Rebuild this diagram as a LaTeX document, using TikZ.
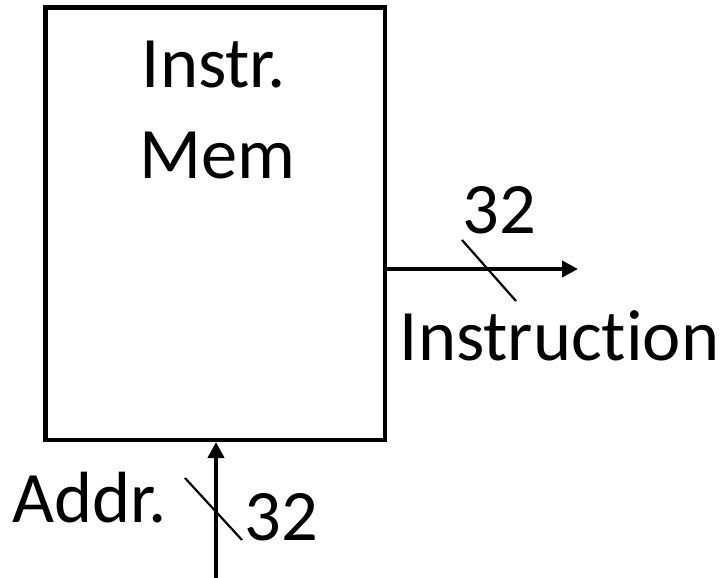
\documentclass[tikz,border=0pt]{standalone}
\usepackage{fontspec}
\setmainfont[RawFeature={-liga;-clig;-dlig}]{Carlito}
\usetikzlibrary{arrows.meta}
\begin{document}
\begin{tikzpicture}[x=1pt,y=-1pt,
  lbl/.style={inner sep=0pt,anchor=base,font=\fontsize{72.5}{86}\selectfont},
  block/.style={draw,line width=4.5pt,outer sep=0pt,inner sep=0pt,rectangle},
  bus/.style={line width=4.5pt,-{Triangle[length=16pt,width=16pt]}},
  tick/.style={line width=2.2pt}]
  \useasboundingbox (0,0) rectangle (726,578);
  % memory block
  \node[block,minimum width=339.5pt,minimum height=432.5pt] (mem) at (215.25,223.75) {};
  \node[lbl] (t1) at (214,88) {Instr.};
  \node[lbl] (t2) at (217,178) {Mem};
  % instruction output bus
  \coordinate (out) at (578,269);
  \draw[bus] (mem.east |- out) -- (out);
  \draw[tick] (462,240) -- (516,301);
  \node[lbl] (w1) at (499,233) {32};
  \node[lbl] (ins) at (559.5,360) {Instruction};
  % address input bus
  \coordinate (in) at (216,578);
  \draw[bus] (in) -- ([yshift=-2pt]in |- mem.south);
  \draw[tick] (185,478) -- (242,540);
  \node[lbl] (adr) at (90,522) {Addr.};
  \node[lbl] (w2) at (281,540) {32};
\end{tikzpicture}
\end{document}
